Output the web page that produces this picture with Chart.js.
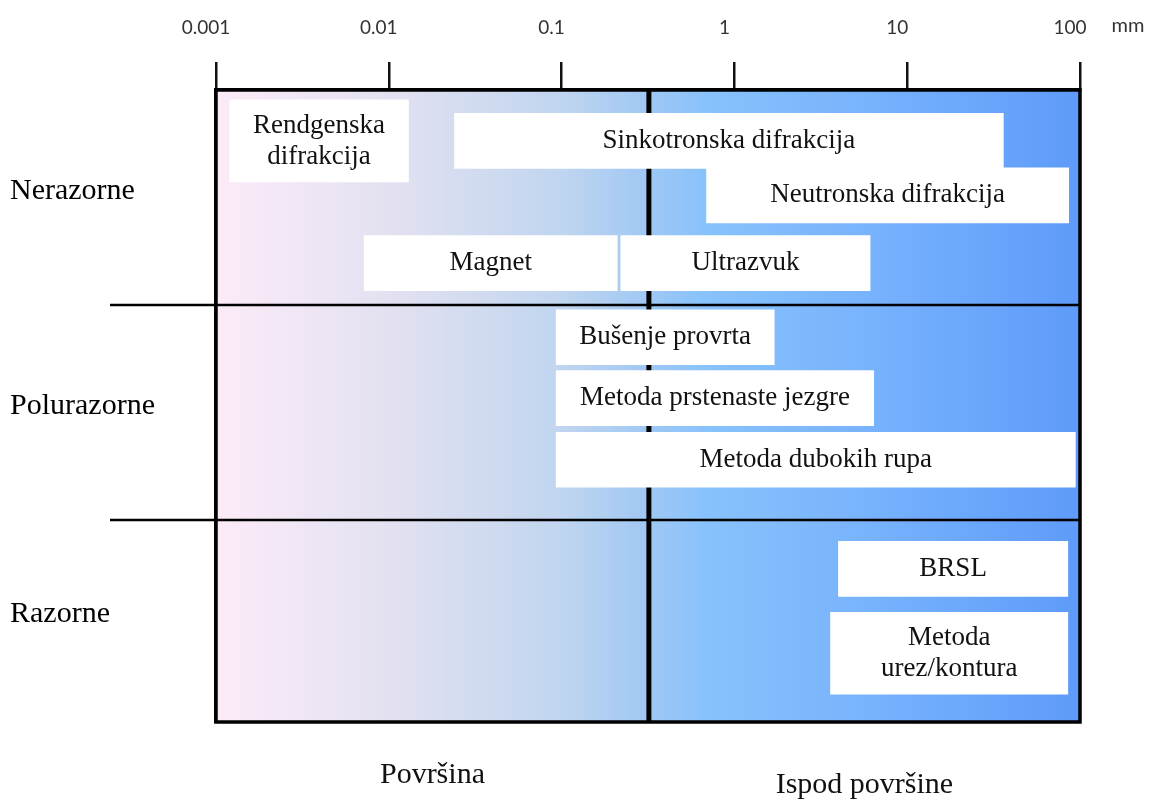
<!DOCTYPE html>
<html>
<head>
<meta charset="utf-8">
<script src="https://cdn.jsdelivr.net/npm/chart.js@4/dist/chart.umd.min.js"></script>
<style>
  html, body { margin: 0; padding: 0; background: #fff; }
  #wrap { width: 1150px; height: 801px; }
</style>
</head>
<body>
<div id="wrap"><canvas id="methodsChart"></canvas></div>
<script>
// Depth ranges (mm) of residual stress measurement methods
const methods = ["Rendgenska\ndifrakcija", "Sinkotronska difrakcija", "Neutronska difrakcija", "Magnet", "Ultrazvuk",
                 "Bušenje provrta", "Metoda prstenaste jezgre", "Metoda dubokih rupa",
                 "BRSL", "Metoda\nurez/kontura"];
const minDepth = [0.0012, 0.024, 0.69, 0.0072, 0.22, 0.093, 0.093, 0.093, 4.0, 3.6];
const maxDepth = [0.013, 36, 86, 0.21, 6.1, 1.7, 6.4, 94, 85, 85];
const groupOf = [0, 0, 0, 0, 0, 1, 1, 1, 2, 2];
const groups = ["Nerazorne", "Polurazorne", "Razorne"];
const zones = ["Površina", "Ispod površine"];
const surfaceLimit = 0.32; // mm, border between surface and subsurface
const tickValues = [0.001, 0.01, 0.1, 1, 10, 100];
const tickLabels = ["0.001", "0.01", "0.1", "1", "10", "100"];

// layout only: lane offset of each box inside its group (group units)
const laneOffset = [0.237, 0.237, 0.49, 0.805, 0.805, 0.15, 0.433, 0.72, 0.228, 0.62];
const yMax = 2.94; // last group is drawn a bit shorter

const serif = "'Liberation Serif', 'Times New Roman', serif";

const datasets = methods.map((m, i) => ({
    label: m,
    data: [{ x: [minDepth[i], maxDepth[i]], y: groupOf[i] + laneOffset[i] }],
    backgroundColor: "#ffffff",
    borderWidth: 0,
    barThickness: m.includes("\n") ? 82 : 55,
    grouped: false
}));

// background gradient, row lines, surface line and frame
const framePlugin = {
    id: "frame",
    beforeDatasetsDraw(chart) {
        const { ctx, chartArea: a, scales: { x, y } } = chart;
        ctx.save();
        const g = ctx.createLinearGradient(a.left, 0, a.right, 0);
        g.addColorStop(0, "#fcebf8");
        g.addColorStop(0.2, "#e3e1f1");
        g.addColorStop(0.4, "#c0d5ef");
        g.addColorStop(0.5, "#9fc8f4");
        g.addColorStop(0.57, "#87c2fc");
        g.addColorStop(0.75, "#78b3fd");
        g.addColorStop(1, "#5e9bfa");
        ctx.fillStyle = g;
        ctx.fillRect(a.left, a.top, a.right - a.left, a.bottom - a.top);

        ctx.strokeStyle = "#000";
        ctx.lineWidth = 2.5;
        for (let r = 1; r < groups.length; r++) {
            const py = y.getPixelForValue(r);
            ctx.beginPath();
            ctx.moveTo(110, py);
            ctx.lineTo(a.right, py);
            ctx.stroke();
        }
        const sx = x.getPixelForValue(surfaceLimit);
        ctx.lineWidth = 5;
        ctx.beginPath();
        ctx.moveTo(sx, a.top);
        ctx.lineTo(sx, a.bottom);
        ctx.stroke();

        ctx.lineWidth = 3.5;
        ctx.strokeRect(a.left, a.top, a.right - a.left, a.bottom - a.top);
        ctx.restore();
    },
    afterDatasetsDraw(chart) {
        const { ctx, chartArea: a, scales: { x } } = chart;
        ctx.save();
        ctx.fillStyle = "#111";
        ctx.textAlign = "center";
        ctx.textBaseline = "middle";
        ctx.font = "27px " + serif;
        chart.data.datasets.forEach((ds, i) => {
            const bar = chart.getDatasetMeta(i).data[0];
            const cx = (bar.x + bar.base) / 2;
            const lines = ds.label.split("\n");
            lines.forEach((t, k) => {
                ctx.fillText(t, cx, bar.y + (k - (lines.length - 1) / 2) * 31);
            });
        });

        // zone labels under the chart
        const sx = x.getPixelForValue(surfaceLimit);
        ctx.font = "30px " + serif;
        ctx.fillText(zones[0], (a.left + sx) / 2, a.bottom + 53);
        ctx.fillText(zones[1], (sx + a.right) / 2, a.bottom + 63);

        // unit
        ctx.fillStyle = "#333";
        ctx.font = "20px Lato, 'Open Sans', sans-serif";
        ctx.fillText("mm", a.right + 48, 26);
        ctx.restore();
    }
};

new Chart(document.getElementById("methodsChart"), {
    type: "bar",
    data: { datasets },
    options: {
        indexAxis: "y",
        responsive: true,
        maintainAspectRatio: false,
        animation: false,
        layout: { padding: { left: 10, right: 70, top: 0, bottom: 79 } },
        plugins: { legend: { display: false }, tooltip: { enabled: false } },
        scales: {
            x: {
                type: "logarithmic",
                position: "top",
                min: 0.001,
                max: 100,
                afterBuildTicks: (axis) => { axis.ticks = tickValues.map(v => ({ value: v })); },
                afterFit: (axis) => { axis.height = 90; },
                ticks: {
                    callback: (v) => tickLabels[tickValues.indexOf(v)] || "",
                    color: "#333",
                    padding: 23,
                    labelOffset: -10,
                    maxRotation: 0,
                    autoSkip: false,
                    font: { family: "Lato, 'Open Sans', sans-serif", size: 19 }
                },
                grid: { drawOnChartArea: false, drawTicks: true, tickLength: 28, color: "#111", lineWidth: 2.5 },
                border: { display: true, color: "#000", width: 3.5 }
            },
            y: {
                type: "linear",
                reverse: true,
                offset: false,
                min: 0,
                max: yMax,
                afterBuildTicks: (axis) => {
                    axis.ticks = groups.map((g, i) => ({ value: (i + Math.min(i + 1, yMax)) / 2 - 0.03 }));
                },
                afterFit: (axis) => { axis.width = 206; },
                ticks: {
                    callback: (v) => groups[Math.floor(v)] || "",
                    crossAlign: "far",
                    color: "#000",
                    font: { family: serif, size: 30 }
                },
                grid: { display: false },
                border: { display: true, color: "#000", width: 3.5 }
            }
        }
    },
    plugins: [framePlugin]
});
</script>
</body>
</html>
